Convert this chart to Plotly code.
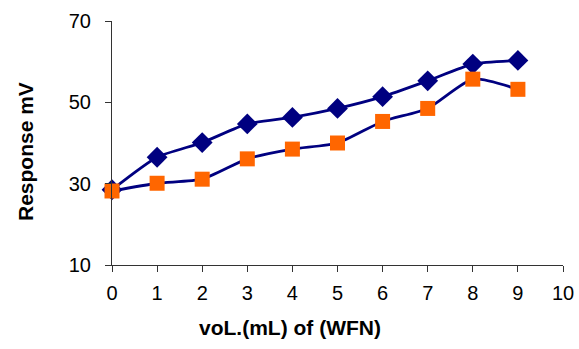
import plotly.graph_objects as go

# Volume of WFN added (mL)
volume = [0, 1, 2, 3, 4, 5, 6, 7, 8, 9]
# Response readings (mV) for the two runs
series_a = [28.5, 36.5, 40.1, 44.7, 46.3, 48.5, 51.4, 55.3, 59.4, 60.3]
series_b = [28.2, 30.1, 31.1, 36.1, 38.5, 40.0, 45.3, 48.5, 55.7, 53.2]

x_ticks = [0, 1, 2, 3, 4, 5, 6, 7, 8, 9, 10]
y_ticks = [10, 30, 50, 70]

navy = "#000080"
orange = "#FF6600"
family = "Liberation Sans, Arial, sans-serif"

fig = go.Figure()
fig.add_trace(go.Scatter(
    x=volume, y=series_a, mode="lines+markers",
    line=dict(color=navy, width=2.8, shape="spline", smoothing=0.6),
    marker=dict(symbol="diamond", size=16, color=navy),
    showlegend=False, cliponaxis=False,
))
fig.add_trace(go.Scatter(
    x=volume, y=series_b, mode="lines+markers",
    line=dict(color=navy, width=2.8, shape="spline", smoothing=0.6),
    marker=dict(symbol="square", size=15, color=orange),
    showlegend=False, cliponaxis=False,
))

tick_font = dict(family=family, size=20, color="#000000")
title_font = dict(family=family, size=21, color="#000000")

fig.update_layout(
    width=579, height=349,
    margin=dict(l=112, r=16, t=21, b=84, autoexpand=False),
    paper_bgcolor="white", plot_bgcolor="white",
    xaxis=dict(
        range=[0, 10], tickvals=x_ticks, showgrid=False, zeroline=False,
        showline=True, linecolor="#333333", linewidth=1,
        ticks="outside", ticklen=6, tickcolor="#333333",
        tickfont=tick_font, ticklabelstandoff=4, automargin=False,
    ),
    yaxis=dict(
        range=[10, 70], tickvals=y_ticks, showgrid=False, zeroline=False,
        showline=True, linecolor="#333333", linewidth=1,
        ticks="outside", ticklen=6, tickcolor="#333333",
        tickfont=tick_font, ticklabelstandoff=10, automargin=False,
    ),
    annotations=[
        dict(text="<b>voL.(mL) of (WFN)</b>", font=title_font, showarrow=False,
             xref="paper", yref="paper", x=(290 - 112) / 451, y=-(327 - 265) / 244,
             xanchor="center", yanchor="middle"),
        dict(text="<b>Response mV</b>", font=title_font, showarrow=False, textangle=-90,
             xref="paper", yref="paper", x=-(112 - 25) / 451, y=(265 - 152) / 244,
             xanchor="center", yanchor="middle"),
    ],
)

fig.write_html("out.html")
